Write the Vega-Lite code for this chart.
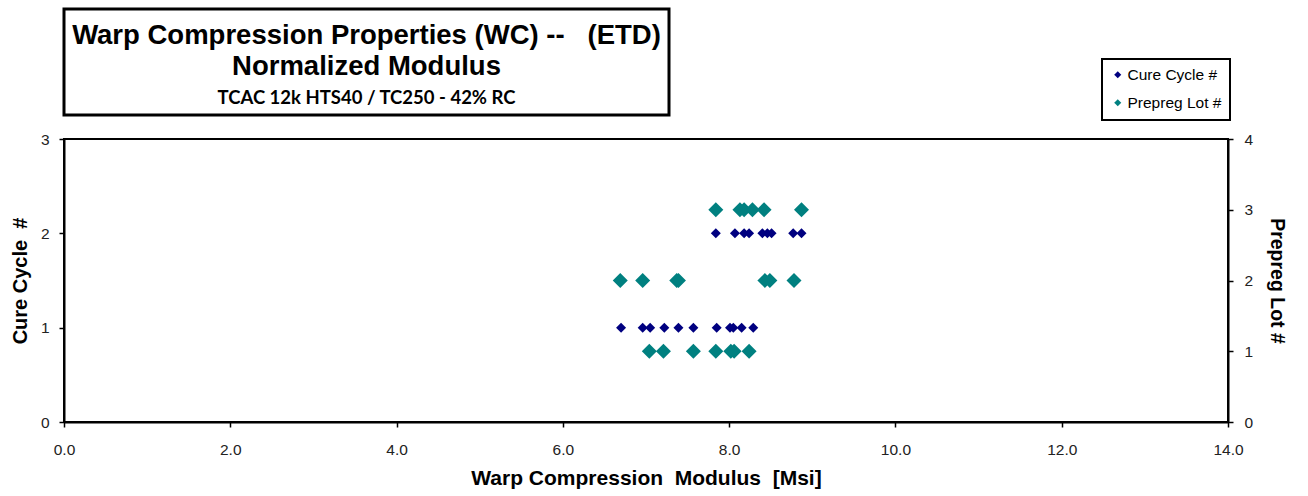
{
  "$schema": "https://vega.github.io/schema/vega-lite/v6.json",
  "padding": {"left": 9, "top": 7, "right": 5, "bottom": 5},
  "background": "white",
  "config": {"font": "Liberation Sans", "view": {"stroke": null}, "legend": {"strokeWidth": 2}},
  "datasets": {
    "title": [
      {"line": 1, "text": "Warp Compression Properties (WC) --\u00a0\u00a0 (ETD)"},
      {"line": 2, "text": "Normalized Modulus"},
      {"line": 3, "text": "TCAC 12k HTS40 / TC250 - 42% RC"}
    ],
    "points": [
      {"series": "Cure Cycle #", "modulus": 6.70, "number": 1},
      {"series": "Cure Cycle #", "modulus": 6.96, "number": 1},
      {"series": "Cure Cycle #", "modulus": 7.05, "number": 1},
      {"series": "Cure Cycle #", "modulus": 7.22, "number": 1},
      {"series": "Cure Cycle #", "modulus": 7.39, "number": 1},
      {"series": "Cure Cycle #", "modulus": 7.57, "number": 1},
      {"series": "Cure Cycle #", "modulus": 7.85, "number": 1},
      {"series": "Cure Cycle #", "modulus": 8.01, "number": 1},
      {"series": "Cure Cycle #", "modulus": 8.05, "number": 1},
      {"series": "Cure Cycle #", "modulus": 8.15, "number": 1},
      {"series": "Cure Cycle #", "modulus": 8.29, "number": 1},
      {"series": "Cure Cycle #", "modulus": 7.84, "number": 2},
      {"series": "Cure Cycle #", "modulus": 8.07, "number": 2},
      {"series": "Cure Cycle #", "modulus": 8.18, "number": 2},
      {"series": "Cure Cycle #", "modulus": 8.24, "number": 2},
      {"series": "Cure Cycle #", "modulus": 8.40, "number": 2},
      {"series": "Cure Cycle #", "modulus": 8.46, "number": 2},
      {"series": "Cure Cycle #", "modulus": 8.51, "number": 2},
      {"series": "Cure Cycle #", "modulus": 8.77, "number": 2},
      {"series": "Cure Cycle #", "modulus": 8.87, "number": 2},
      {"series": "Prepreg Lot #", "modulus": 7.04, "number": 1},
      {"series": "Prepreg Lot #", "modulus": 7.21, "number": 1},
      {"series": "Prepreg Lot #", "modulus": 7.57, "number": 1},
      {"series": "Prepreg Lot #", "modulus": 7.84, "number": 1},
      {"series": "Prepreg Lot #", "modulus": 8.02, "number": 1},
      {"series": "Prepreg Lot #", "modulus": 8.06, "number": 1},
      {"series": "Prepreg Lot #", "modulus": 8.24, "number": 1},
      {"series": "Prepreg Lot #", "modulus": 6.69, "number": 2},
      {"series": "Prepreg Lot #", "modulus": 6.96, "number": 2},
      {"series": "Prepreg Lot #", "modulus": 7.37, "number": 2},
      {"series": "Prepreg Lot #", "modulus": 7.39, "number": 2},
      {"series": "Prepreg Lot #", "modulus": 8.43, "number": 2},
      {"series": "Prepreg Lot #", "modulus": 8.49, "number": 2},
      {"series": "Prepreg Lot #", "modulus": 8.78, "number": 2},
      {"series": "Prepreg Lot #", "modulus": 7.84, "number": 3},
      {"series": "Prepreg Lot #", "modulus": 8.13, "number": 3},
      {"series": "Prepreg Lot #", "modulus": 8.18, "number": 3},
      {"series": "Prepreg Lot #", "modulus": 8.28, "number": 3},
      {"series": "Prepreg Lot #", "modulus": 8.42, "number": 3},
      {"series": "Prepreg Lot #", "modulus": 8.87, "number": 3}
    ]
  },
  "bounds": "flush",
  "spacing": 24,
  "vconcat": [
    {
      "width": 605,
      "height": 106,
      "view": {"stroke": "black", "strokeWidth": 3},
      "data": {"name": "title"},
      "encoding": {
        "y": {"field": "line", "type": "quantitative", "scale": {"domain": [0.15, 3.55], "reverse": true}, "axis": null}
      },
      "layer": [
        {
          "transform": [{"filter": "datum.line < 3"}],
          "mark": {"type": "text", "font": "Liberation Sans", "fontWeight": "bold", "fontSize": 27.5, "baseline": "middle", "color": "black"},
          "encoding": {"text": {"field": "text"}}
        },
        {
          "transform": [{"filter": "datum.line == 3"}],
          "mark": {"type": "text", "font": "Lato", "fontWeight": "bold", "fontSize": 18.5, "baseline": "middle", "color": "black"},
          "encoding": {"text": {"field": "text"}}
        }
      ]
    },
    {
      "width": 1164,
      "height": 283,
      "view": {"stroke": "black", "strokeWidth": 2},
      "data": {"name": "points"},
      "encoding": {
        "x": {
          "field": "modulus", "type": "quantitative",
          "scale": {"domain": [0, 14], "nice": false},
          "axis": {
            "values": [0, 2, 4, 6, 8, 10, 12, 14], "format": ".1f", "grid": false, "labelFlush": false,
            "labelFontSize": 15.5, "labelColor": "#222", "labelPadding": 15,
            "domainColor": "black", "domainWidth": 2, "tickColor": "black", "tickSize": 5, "tickWidth": 1.5,
            "title": "Warp Compression\u00a0 Modulus\u00a0 [Msi]", "titleFontSize": 21, "titleFontWeight": "bold", "titleColor": "black", "titlePadding": 10
          }
        }
      },
      "layer": [
        {
          "transform": [{"filter": "datum.series == 'Cure Cycle #'"}],
          "mark": {"type": "point", "shape": "diamond", "filled": true, "size": 100, "opacity": 1},
          "encoding": {
            "y": {
              "field": "number", "type": "quantitative",
              "scale": {"domain": [0, 3], "nice": false},
              "axis": {
                "orient": "left", "values": [0, 1, 2, 3], "grid": false, "labelFlush": false,
                "labelFontSize": 15.5, "labelColor": "#222", "labelPadding": 10,
                "domainColor": "black", "domainWidth": 2, "tickColor": "black", "tickSize": 5, "tickWidth": 1.5,
                "title": "Cure Cycle\u00a0 #", "titleFontSize": 20, "titleFontWeight": "bold", "titleColor": "black", "titlePadding": 10
              }
            },
            "color": {
              "field": "series", "type": "nominal",
              "scale": {"domain": ["Cure Cycle #", "Prepreg Lot #"], "range": ["#000080", "#008080"]},
              "legend": {
                "title": null, "orient": "none", "legendX": 1038, "legendY": 50,
                "symbolType": "diamond", "symbolSize": 50, "labelFontSize": 15.5, "labelColor": "black",
                "padding": 8, "rowPadding": 11, "labelOffset": 2,
                "strokeColor": "black", "fillColor": "white"
              }
            }
          }
        },
        {
          "transform": [{"filter": "datum.series == 'Prepreg Lot #'"}],
          "mark": {"type": "point", "shape": "diamond", "filled": true, "size": 225, "opacity": 1},
          "encoding": {
            "y": {
              "field": "number", "type": "quantitative",
              "scale": {"domain": [0, 4], "nice": false},
              "axis": {
                "orient": "right", "values": [0, 1, 2, 3, 4], "grid": false, "labelFlush": false,
                "labelFontSize": 15.5, "labelColor": "#222", "labelPadding": 11,
                "domainColor": "black", "domainWidth": 2, "tickColor": "black", "tickSize": 5, "tickWidth": 1.5,
                "title": "Prepreg Lot #", "titleFontSize": 19.5, "titleFontWeight": "bold", "titleColor": "black", "titlePadding": 14
              }
            },
            "color": {"field": "series", "type": "nominal"}
          }
        }
      ],
      "resolve": {"scale": {"y": "independent"}}
    }
  ]
}
